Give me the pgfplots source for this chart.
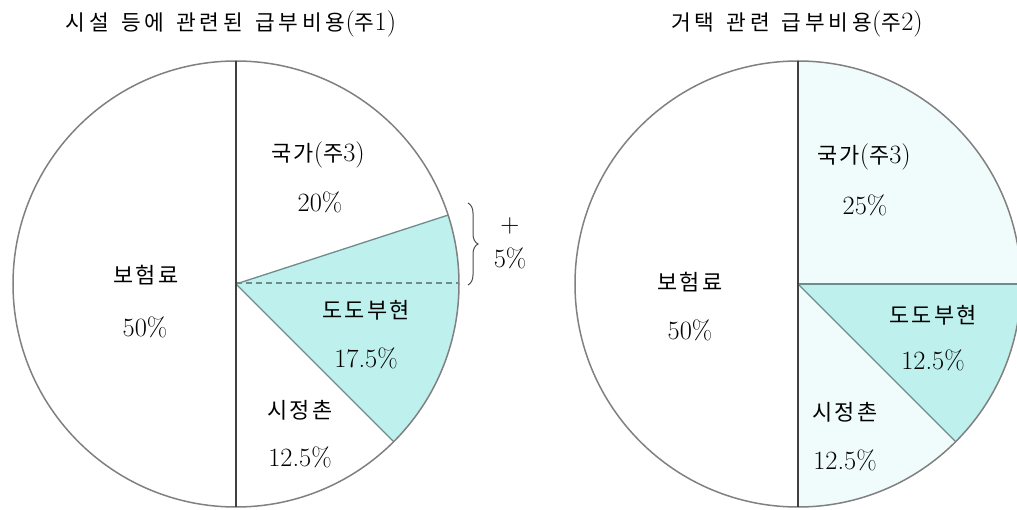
\documentclass[border=0pt]{standalone}
\usepackage{fontspec}
\usepackage{pgfplots}
\pgfplotsset{compat=1.18}
\usetikzlibrary{decorations.pathreplacing}
\newfontfamily\cjk[LetterSpace=10]{Noto Sans CJK KR}
\newfontfamily\cjkt[LetterSpace=18]{Noto Sans CJK KR}

\definecolor{dodo}{RGB}{190,240,237}
\definecolor{pale}{RGB}{240,252,251}
\definecolor{rim}{RGB}{128,128,128}
\definecolor{spoke}{RGB}{112,140,138}
\definecolor{ink}{RGB}{30,30,30}

% pie slice: centre x, centre y, percent before it, its percent, fill
% (clockwise from 12 o'clock, radius 223bp)
\newcommand\slice[5]{%
  \fill[#5] (axis cs:#1,#2) -- ++({90-3.6*#3}:223bp)
    arc[start angle={90-3.6*#3}, end angle={90-3.6*(#3+#4)}, radius=223bp] -- cycle;}
\newcommand\spoke[4]{%
  \draw[#4, line width=1.3bp] (axis cs:#1,#2) -- ++({90-3.6*#3}:223bp);}

\newcommand\kr[1]{{\fontsize{22}{26}\cjk #1}}
\newcommand\kt[1]{{\fontsize{21.5}{26}\cjkt #1}}
\newcommand\pc[1]{{\fontsize{26.5}{30}\selectfont #1}}
\newcommand\tsp{\hspace{12bp}}

\begin{document}
\begin{tikzpicture}
\begin{axis}[
  x=1bp, y=1bp, scale only axis,
  xmin=0, xmax=1017, ymin=0, ymax=510,
  hide axis, clip=true, anchor=south west, at={(0,0)},
  every node/.style={text=ink},
]
% --- left pie: 시설 등 ---
\slice{236}{226}{0}{20}{white}
\slice{236}{226}{20}{17.5}{dodo}
\slice{236}{226}{37.5}{12.5}{white}
\slice{236}{226}{50}{50}{white}
\draw[spoke, line width=1.3bp, dash pattern=on 6bp off 4bp] (axis cs:236,227) -- (axis cs:459,227);
\spoke{236}{226}{20}{spoke}
\spoke{236}{226}{37.5}{spoke}
\draw[rim, line width=1.5bp] (axis cs:236,226) circle[radius=223bp];
\draw[black!75, line width=1.3bp] (axis cs:236,449) -- (axis cs:236,3);

% --- right pie: 거택 ---
\slice{798}{226}{0}{25}{pale}
\slice{798}{226}{25}{12.5}{dodo}
\slice{798}{226}{37.5}{12.5}{pale}
\slice{798}{226}{50}{50}{white}
\spoke{798}{226}{25}{spoke}
\spoke{798}{226}{37.5}{spoke}
\draw[rim, line width=1.5bp] (axis cs:798,226) circle[radius=223bp];
\draw[black!75, line width=1.3bp] (axis cs:798,449) -- (axis cs:798,3);

% bracket for the extra 5%
\draw[black!70, line width=1bp, decorate, decoration={brace, amplitude=10bp}]
  (axis cs:468,307) -- (axis cs:468,225);
\node at (axis cs:510,284) {\pc{+}};
\node at (axis cs:510,252) {\pc{5\%}};

% titles
\node at (axis cs:231,486) {\kt{시설}\tsp\kt{등에}\tsp\kt{관련된}\tsp\kt{급부비용}\pc{(}\kt{주}\pc{1)}};
\node at (axis cs:797,486) {\kt{거택}\tsp\kt{관련}\tsp\kt{급부비용}\pc{(}\kt{주}\pc{2)}};

% left labels
\node at (axis cs:318,355) {\kr{국가}\pc{(}\kr{주}\pc{3)}};
\node at (axis cs:320,308) {\pc{20\%}};
\node at (axis cs:146,235) {\kr{보험료}};
\node at (axis cs:145,183) {\pc{50\%}};
\node at (axis cs:366,200) {\kr{도도부현}};
\node at (axis cs:366,152) {\pc{17.5\%}};
\node at (axis cs:300,100) {\kr{시정촌}};
\node at (axis cs:300,53) {\pc{12.5\%}};

% right labels
\node at (axis cs:864,353) {\kr{국가}\pc{(}\kr{주}\pc{3)}};
\node at (axis cs:865,305) {\pc{25\%}};
\node at (axis cs:690,228) {\kr{보험료}};
\node at (axis cs:690,180) {\pc{50\%}};
\node at (axis cs:933,195) {\kr{도도부현}};
\node at (axis cs:933,150) {\pc{12.5\%}};
\node at (axis cs:845,98) {\kr{시정촌}};
\node at (axis cs:845,50) {\pc{12.5\%}};
\end{axis}
\pgfresetboundingbox
\useasboundingbox (0,0) rectangle (1017bp,510bp);
\end{tikzpicture}
\end{document}
